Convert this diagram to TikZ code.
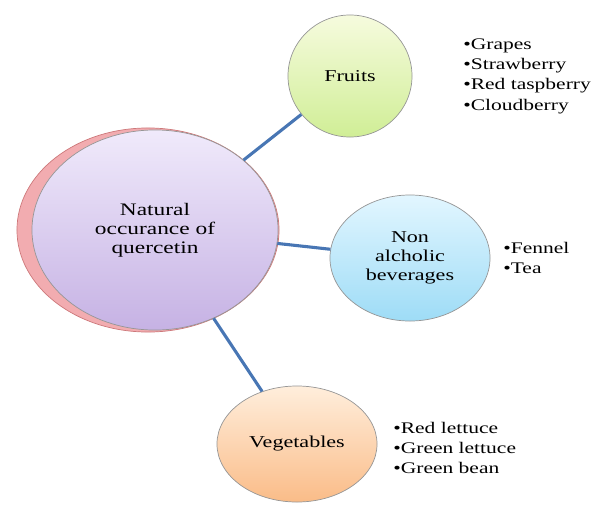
\documentclass[tikz,border=0pt]{standalone}
\usepackage{fontspec}
\usepackage{xcolor}
\usetikzlibrary{shapes.geometric,positioning}
\newfontfamily\wideserif[FakeStretch=1.33]{Liberation Serif}
\definecolor{linkblue}{RGB}{72,118,180}
\definecolor{mainpink}{RGB}{242,172,176}
\definecolor{mainpinkedge}{RGB}{205,120,122}
\definecolor{maintop}{RGB}{240,234,251}
\definecolor{mainbot}{RGB}{198,178,228}
\definecolor{fruittop}{RGB}{246,251,222}
\definecolor{fruitbot}{RGB}{208,238,150}
\definecolor{drinktop}{RGB}{226,246,255}
\definecolor{drinkbot}{RGB}{158,220,246}
\definecolor{vegtop}{RGB}{255,238,220}
\definecolor{vegbot}{RGB}{250,188,136}
\definecolor{rimgray}{RGB}{150,150,150}

\begin{document}
\begin{tikzpicture}[x=0.025cm, y=-0.025cm,
    bubble/.style={ellipse, draw=rimgray, line width=0.5pt, inner sep=0pt,
        align=center, font=\wideserif\fontsize{11.8}{13.6}\selectfont},
    listbox/.style={anchor=west, align=left, inner sep=0pt,
        font=\wideserif\fontsize{11.5}{14.5}\selectfont},
    link/.style={draw=linkblue, line width=2.2pt}]
    \useasboundingbox (0,0) rectangle (597,506);

    % Centre: shadow ellipse and main ellipse
    \node[bubble, draw=mainpinkedge, fill=mainpink, minimum width=6.55cm, minimum height=5.1cm] (shade) at (148,230) {};
    \node[bubble, top color=maintop, bottom color=mainbot, minimum width=6.15cm, minimum height=5cm,
        font=\wideserif\fontsize{12.5}{13.6}\selectfont] (main) at (155,230) {Natural\\occurance of\\quercetin};

    % Fruits
    \node[bubble, top color=fruittop, bottom color=fruitbot, minimum width=3.1cm, minimum height=3.05cm] (fruits) at (350,76) {Fruits};
    \node[listbox] (fruitlist) at (463,76) {\textbullet Grapes\\\textbullet Strawberry\\\textbullet Red taspberry\\\textbullet Cloudberry};

    % Non alcoholic beverages
    \node[bubble, top color=drinktop, bottom color=drinkbot, minimum width=4cm, minimum height=3.15cm] (drinks) at (410,258) {Non\\alcholic\\beverages};
    \node[listbox] (drinklist) at (503,258) {\textbullet Fennel\\\textbullet Tea};

    % Vegetables
    \node[bubble, top color=vegtop, bottom color=vegbot, minimum width=4cm, minimum height=2.9cm] (veg) at (297,444) {Vegetables};
    \node[listbox] (veglist) at (393,448) {\textbullet Red lettuce\\\textbullet Green lettuce\\\textbullet Green bean};

    % Links
    \draw[link] (main) -- (fruits);
    \draw[link] (main) -- (drinks);
    \draw[link] (main) -- (veg);
\end{tikzpicture}
\end{document}
